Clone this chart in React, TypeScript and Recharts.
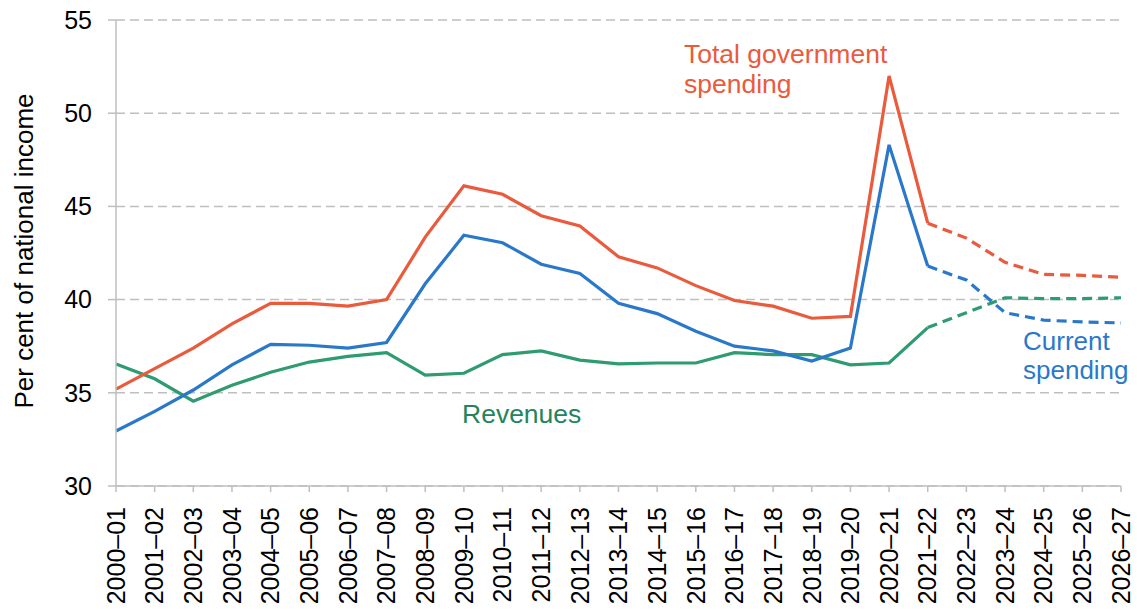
import { LineChart, Line, XAxis, YAxis, CartesianGrid } from "recharts";

const years = [
  "2000–01", "2001–02", "2002–03", "2003–04", "2004–05", "2005–06", "2006–07",
  "2007–08", "2008–09", "2009–10", "2010–11", "2011–12", "2012–13", "2013–14",
  "2014–15", "2015–16", "2016–17", "2017–18", "2018–19", "2019–20", "2020–21",
  "2021–22", "2022–23", "2023–24", "2024–25", "2025–26", "2026–27",
];

// per cent of national income
const totalSpending = [
  35.2, 36.3, 37.4, 38.7, 39.8, 39.8, 39.65, 40.0, 43.35, 46.1, 45.65, 44.5,
  43.95, 42.3, 41.7, 40.75, 39.95, 39.65, 39.0, 39.1, 52.0, 44.1, 43.3, 42.0,
  41.35, 41.3, 41.2,
];
const currentSpending = [
  32.95, 34.0, 35.15, 36.5, 37.6, 37.55, 37.4, 37.7, 40.85, 43.45, 43.05, 41.9,
  41.4, 39.8, 39.25, 38.3, 37.5, 37.25, 36.7, 37.4, 48.3, 41.8, 41.05, 39.3,
  38.9, 38.8, 38.75,
];
const revenues = [
  36.55, 35.75, 34.55, 35.4, 36.1, 36.65, 36.95, 37.15, 35.95, 36.05, 37.05,
  37.25, 36.75, 36.55, 36.6, 36.6, 37.15, 37.05, 37.05, 36.5, 36.6, 38.5, 39.3,
  40.1, 40.05, 40.05, 40.1,
];

// forecasts start after this year
const lastOutturn = "2021–22";
const yTicks = [30, 35, 40, 45, 50, 55];

const RED = "#EA5A3C";
const BLUE = "#2A78C9";
const GREEN = "#2E9B70";
const GRID = "#BFBFBF";
const FONT = "'Liberation Sans', Arial, sans-serif";

const cut = years.indexOf(lastOutturn);
const data = years.map((year, i) => ({
  year,
  totalA: i <= cut ? totalSpending[i] : null,
  totalF: i >= cut ? totalSpending[i] : null,
  currentA: i <= cut ? currentSpending[i] : null,
  currentF: i >= cut ? currentSpending[i] : null,
  revA: i <= cut ? revenues[i] : null,
  revF: i >= cut ? revenues[i] : null,
}));

const YearTick = (props: any) => {
  const { x, y, payload } = props;
  return (
    <text
      transform={`translate(${x},${y}) rotate(-90)`}
      textAnchor="end"
      dy="0.35em"
      fontSize={25}
      fontFamily={FONT}
      fill="#000"
    >
      {payload.value}
    </text>
  );
};

const lineProps = {
  type: "linear" as const,
  dot: false,
  activeDot: false,
  isAnimationActive: false,
  strokeWidth: 3.2,
};

export default function App() {
  return (
    <div style={{ position: "absolute", left: 0, top: 0, background: "#fff" }}>
      <LineChart
        width={1137}
        height={610}
        data={data}
        margin={{ top: 20, right: 16, bottom: 0, left: 0 }}
      >
        <CartesianGrid
          vertical={false}
          stroke={GRID}
          strokeWidth={1.5}
          strokeDasharray="9 5"
        />
        <XAxis
          dataKey="year"
          height={124}
          interval={0}
          tickSize={6}
          tickMargin={15}
          tick={<YearTick />}
          axisLine={{ stroke: GRID, strokeWidth: 1.5 }}
          tickLine={{ stroke: GRID, strokeWidth: 1.5 }}
        />
        <YAxis
          width={116}
          domain={[30, 55]}
          ticks={yTicks}
          interval={0}
          tickSize={8}
          tickMargin={16}
          tick={{ fontSize: 25, fontFamily: FONT, fill: "#000" }}
          axisLine={{ stroke: GRID, strokeWidth: 1.5 }}
          tickLine={{ stroke: GRID, strokeWidth: 1.5 }}
        />
        <Line {...lineProps} dataKey="revA" stroke={GREEN} />
        <Line {...lineProps} dataKey="revF" stroke={GREEN} strokeDasharray="10 6" />
        <Line {...lineProps} dataKey="currentA" stroke={BLUE} />
        <Line {...lineProps} dataKey="currentF" stroke={BLUE} strokeDasharray="10 6" />
        <Line {...lineProps} dataKey="totalA" stroke={RED} />
        <Line {...lineProps} dataKey="totalF" stroke={RED} strokeDasharray="10 6" />

        <text
          transform="translate(33,251) rotate(-90)"
          textAnchor="middle"
          fontSize={26}
          fontFamily={FONT}
          fill="#000"
        >
          Per cent of national income
        </text>
        <text x={684} y={63} fontSize={26.5} fontFamily={FONT} fill={RED}>
          Total government
        </text>
        <text x={684} y={93} fontSize={26.5} fontFamily={FONT} fill={RED}>
          spending
        </text>
        <text x={462} y={423} fontSize={26.5} fontFamily={FONT} fill="#24845C">
          Revenues
        </text>
        <text x={1023} y={350} fontSize={26} fontFamily={FONT} fill={BLUE}>
          Current
        </text>
        <text x={1023} y={379} fontSize={26} fontFamily={FONT} fill={BLUE}>
          spending
        </text>
      </LineChart>
    </div>
  );
}
